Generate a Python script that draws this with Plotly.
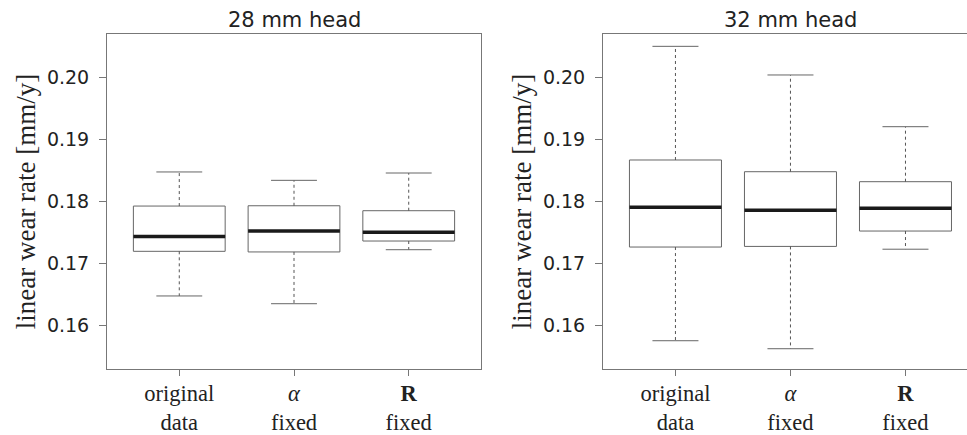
import plotly.graph_objects as go

# ---- data ----
categories = ["original<br>data", "<i>α</i><br>fixed", "<b>R</b><br>fixed"]
positions = [1, 2, 3]

h28_lower = [0.1648, 0.16355, 0.17226]
h28_q1 = [0.1720, 0.1719, 0.17366]
h28_median = [0.1744, 0.17527, 0.17506]
h28_q3 = [0.1793, 0.17935, 0.17855]
h28_upper = [0.1848, 0.18345, 0.18463]

h32_lower = [0.15758, 0.15629, 0.17234]
h32_q1 = [0.17269, 0.17279, 0.17527]
h32_median = [0.1791, 0.17861, 0.17894]
h32_q3 = [0.18673, 0.18484, 0.18323]
h32_upper = [0.20506, 0.20044, 0.1921]

panel_titles = ["28 mm head", "32 mm head"]
y_title = "linear wear rate [mm/y]"
y_ticks = [0.16, 0.17, 0.18, 0.19, 0.20]

# ---- style ----
W, H = 967, 435
BOX_W = 0.8
CAP_W = 0.4
FRAME = "#777777"
BOXLINE = "#666666"
MEDIAN = "#1a1a1a"
SANS = "DejaVu Sans"
SERIF = "Liberation Serif"

fig = go.Figure()


def add_panel(fig, xa, ya, lower, q1, med, q3, upper):
    fig.add_trace(go.Box(
        x=positions, q1=q1, median=med, q3=q3, lowerfence=q1, upperfence=q3,
        width=BOX_W, whiskerwidth=0, fillcolor="white",
        line=dict(color=BOXLINE, width=1), xaxis=xa, yaxis=ya,
        hoverinfo="skip", showlegend=False))
    wx, wy = [], []
    cx, cy = [], []
    mx, my = [], []
    for p, lo, a, m, b, hi in zip(positions, lower, q1, med, q3, upper):
        wx += [p, p, None, p, p, None]
        wy += [b, hi, None, a, lo, None]
        cx += [p - CAP_W / 2, p + CAP_W / 2, None, p - CAP_W / 2, p + CAP_W / 2, None]
        cy += [hi, hi, None, lo, lo, None]
        mx += [p - BOX_W / 2, p + BOX_W / 2, None]
        my += [m, m, None]
    fig.add_trace(go.Scatter(x=wx, y=wy, mode="lines", xaxis=xa, yaxis=ya,
                             line=dict(color="#555555", width=1, dash="3px,3px"),
                             hoverinfo="skip", showlegend=False))
    fig.add_trace(go.Scatter(x=cx, y=cy, mode="lines", xaxis=xa, yaxis=ya,
                             line=dict(color=BOXLINE, width=1),
                             hoverinfo="skip", showlegend=False))
    fig.add_trace(go.Scatter(x=mx, y=my, mode="lines", xaxis=xa, yaxis=ya,
                             line=dict(color=MEDIAN, width=3.5),
                             hoverinfo="skip", showlegend=False))


add_panel(fig, "x", "y", h28_lower, h28_q1, h28_median, h28_q3, h28_upper)
add_panel(fig, "x2", "y2", h32_lower, h32_q1, h32_median, h32_q3, h32_upper)

ydom = [1 - 369 / H, 1 - 34 / H]
xcommon = dict(tickvals=positions, ticktext=categories, ticks="outside", ticklen=6,
               tickcolor=FRAME, showline=True, linecolor=FRAME, linewidth=1,
               mirror=True, showgrid=False, zeroline=False, automargin=False,
               ticklabelstandoff=-2,
               tickfont=dict(family=SERIF, size=22.5, color="#222222"))
ycommon = dict(range=[0.15302, 0.20705], tickvals=y_ticks, tickformat=".2f",
               ticks="outside", ticklen=7, tickcolor=FRAME, showline=True,
               linecolor=FRAME, linewidth=1, showgrid=False, zeroline=False,
               automargin=False, ticklabelstandoff=6,
               tickfont=dict(family=SANS, size=19, color="#222222"),
               title=dict(text=y_title, font=dict(family=SERIF, size=27, color="#222222"),
                          standoff=3))

fig.update_layout(
    width=W, height=H,
    margin=dict(l=0, r=0, t=0, b=0),
    paper_bgcolor="white", plot_bgcolor="white",
    showlegend=False,
    xaxis=dict(domain=[107 / W, 481 / W], range=[0.37, 3.63], anchor="y", **xcommon),
    yaxis=dict(domain=ydom, anchor="x", mirror=True, **ycommon),
    xaxis2=dict(domain=[603 / W, 1.0], range=[0.37, 3.535], anchor="y2", **xcommon),
    yaxis2=dict(domain=ydom, anchor="x2", mirror=False, **ycommon),
    annotations=[
        dict(text=panel_titles[0], x=294 / W, y=1 - 20 / H, xref="paper", yref="paper",
             showarrow=False, xanchor="center", yanchor="middle",
             font=dict(family=SANS, size=21, color="#222222")),
        dict(text=panel_titles[1], x=790.5 / W, y=1 - 20 / H, xref="paper", yref="paper",
             showarrow=False, xanchor="center", yanchor="middle",
             font=dict(family=SANS, size=21, color="#222222")),
    ],
)

fig.write_html("out.html",
               config={"displayModeBar": False},
               post_script="document.body.style.margin='0px';"
                           "document.body.style.overflow='hidden';")
